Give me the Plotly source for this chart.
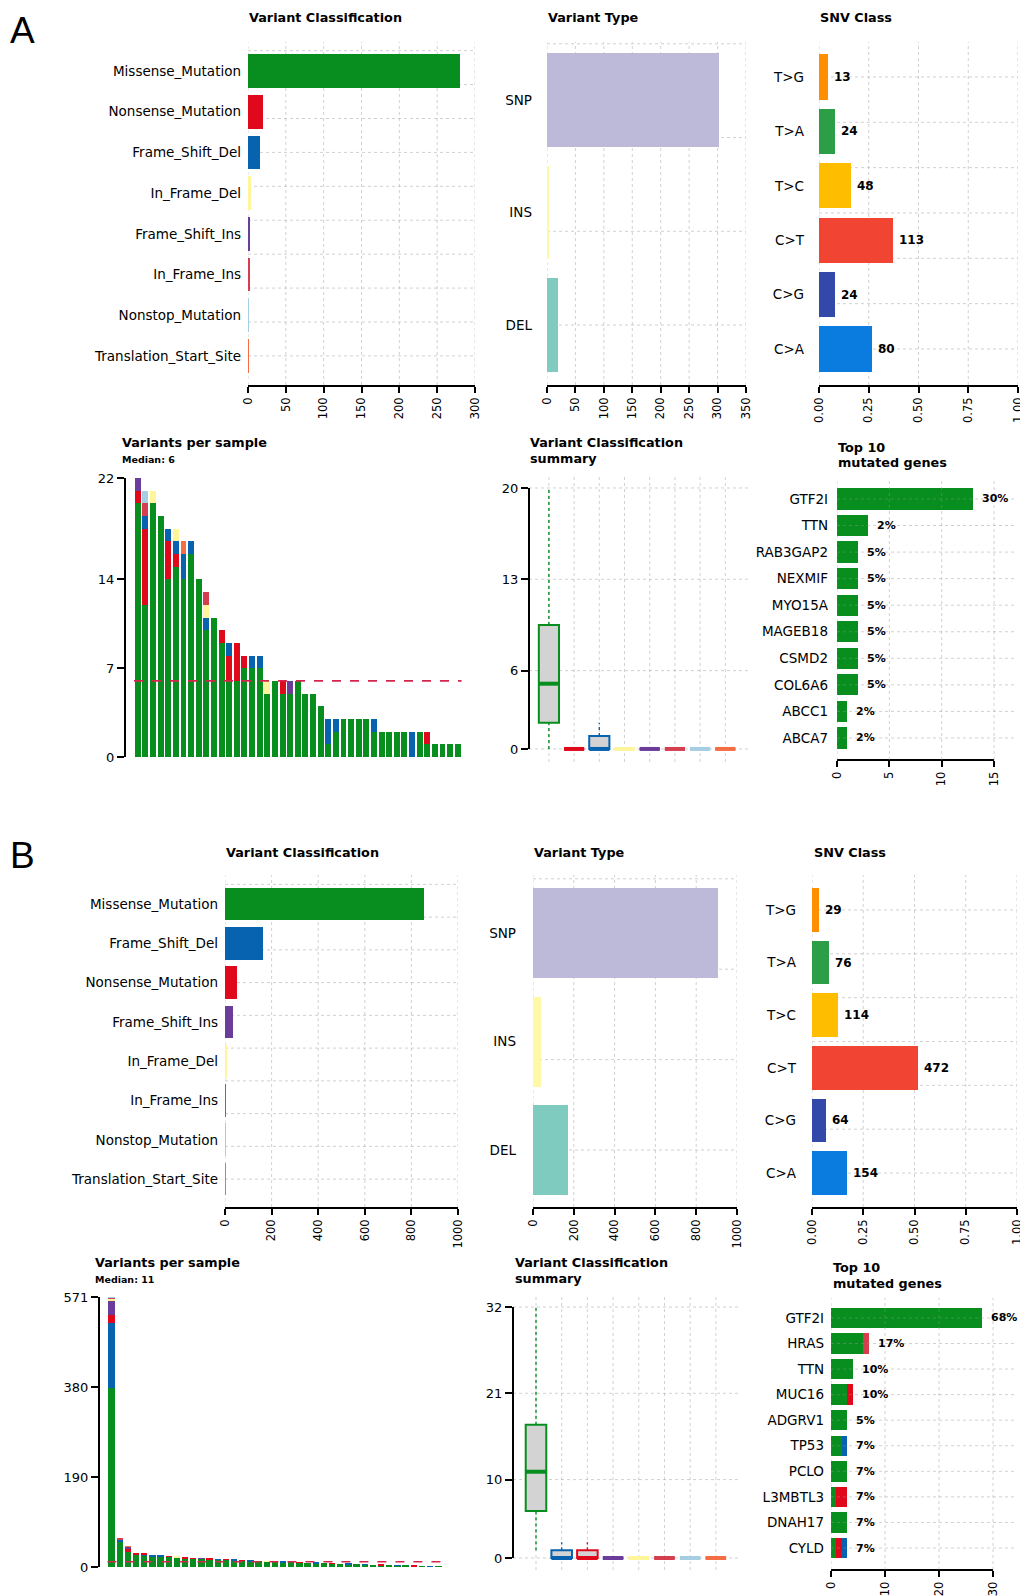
import numpy as np
import plotly.graph_objects as go

W, H = 1028, 1596          # size of the reference picture
OFF = 8                    # page body margin of the browser
WF, HF = W - OFF, H - OFF  # figure size so that it ends exactly at the window edge
FONT = "DejaVu Sans"
GRID = "rgba(150,150,150,0.55)"
BOXFILL = "#d3d3d3"
MEDIAN_COLOR = "#d6244f"

# ======================= DATA : panel A =======================
vc_names_A = ["Missense_Mutation", "Nonsense_Mutation", "Frame_Shift_Del", "In_Frame_Del",
              "Frame_Shift_Ins", "In_Frame_Ins", "Nonstop_Mutation", "Translation_Start_Site"]
vc_counts_A = [280, 20, 16, 4, 2, 2, 1, 1]
vc_ticks_A = [0, 50, 100, 150, 200, 250, 300]

vt_names = ["SNP", "INS", "DEL"]
vt_counts_A = [302, 4, 20]
vt_ticks_A = [0, 50, 100, 150, 200, 250, 300, 350]

snv_names = ["T>G", "T>A", "T>C", "C>T", "C>G", "C>A"]
snv_counts_A = [13, 24, 48, 113, 24, 80]
snv_ticks = [0, 0.25, 0.5, 0.75, 1.0]
snv_ticktext = ["0.00", "0.25", "0.50", "0.75", "1.00"]

# variants per sample, panel A (43 samples), one list per variant class
A_missense = [20, 12, 20, 19, 14, 15, 14, 16, 14, 10, 11, 9, 6, 6, 7, 7, 7, 5, 6, 5, 5, 6, 5, 5, 4, 1, 2,
              3, 3, 3, 3, 2, 2, 2, 2, 2, 0, 2, 1, 1, 1, 1, 1]
A_nonsense = [1, 6, 0, 0, 3, 1, 0, 0, 0, 0, 0, 1, 2, 3, 1, 0, 0, 0, 0, 1, 0, 0, 0, 0, 0, 0, 0,
              0, 0, 0, 0, 0, 0, 0, 0, 0, 0, 0, 1, 0, 0, 0, 0]
A_fs_del = [0, 1, 0, 0, 1, 1, 2, 1, 0, 1, 0, 0, 1, 0, 0, 1, 1, 0, 0, 0, 0, 0, 0, 0, 0, 2, 1,
            0, 0, 0, 0, 1, 0, 0, 0, 0, 2, 0, 0, 0, 0, 0, 0]
A_if_del = [0, 0, 1, 0, 0, 1, 0, 0, 0, 1, 0, 0, 0, 0, 0, 0, 0, 1, 0, 0, 0, 0, 0, 0, 0, 0, 0,
            0, 0, 0, 0, 0, 0, 0, 0, 0, 0, 0, 0, 0, 0, 0, 0]
A_fs_ins = [1, 0, 0, 0, 0, 0, 0, 0, 0, 0, 0, 0, 0, 0, 0, 0, 0, 0, 0, 0, 1, 0, 0, 0, 0, 0, 0,
            0, 0, 0, 0, 0, 0, 0, 0, 0, 0, 0, 0, 0, 0, 0, 0]
A_if_ins = [0, 1, 0, 0, 0, 0, 0, 0, 0, 1, 0, 0, 0, 0, 0, 0, 0, 0, 0, 0, 0, 0, 0, 0, 0, 0, 0,
            0, 0, 0, 0, 0, 0, 0, 0, 0, 0, 0, 0, 0, 0, 0, 0]
A_nonstop = [0, 1, 0, 0, 0, 0, 0, 0, 0, 0, 0, 0, 0, 0, 0, 0, 0, 0, 0, 0, 0, 0, 0, 0, 0, 0, 0,
             0, 0, 0, 0, 0, 0, 0, 0, 0, 0, 0, 0, 0, 0, 0, 0]
A_tss = [0, 0, 0, 0, 0, 0, 1, 0, 0, 0, 0, 0, 0, 0, 0, 0, 0, 0, 0, 0, 0, 0, 0, 0, 0, 0, 0,
         0, 0, 0, 0, 0, 0, 0, 0, 0, 0, 0, 0, 0, 0, 0, 0]
vps_ticks_A = [0, 7, 14, 22]
box_ticks_A = [0, 6, 13, 20]

genes_A = ["GTF2I", "TTN", "RAB3GAP2", "NEXMIF", "MYO15A", "MAGEB18", "CSMD2", "COL6A6", "ABCC1", "ABCA7"]
genes_A_missense = [13, 3, 2, 2, 2, 2, 2, 2, 1, 1]
genes_A_pct = ["30%", "2%", "5%", "5%", "5%", "5%", "5%", "5%", "2%", "2%"]
top_ticks_A = [0, 5, 10, 15]

# ======================= DATA : panel B =======================
vc_names_B = ["Missense_Mutation", "Frame_Shift_Del", "Nonsense_Mutation", "Frame_Shift_Ins",
              "In_Frame_Del", "In_Frame_Ins", "Nonstop_Mutation", "Translation_Start_Site"]
vc_counts_B = [856, 163, 51, 34, 8, 3, 1, 1]
vc_ticks_B = [0, 200, 400, 600, 800, 1000]
vt_counts_B = [909, 37, 171]
vt_ticks_B = [0, 200, 400, 600, 800, 1000]
snv_counts_B = [29, 76, 114, 472, 64, 154]

# variants per sample, panel B (41 samples)
B_missense = [379, 53, 32, 26, 24, 23, 22, 22, 20, 19, 17, 17, 16, 15, 15, 14, 13, 12, 12, 11, 11,
              10, 10, 9, 9, 8, 8, 7, 7, 6, 6, 5, 5, 4, 4, 3, 3, 2, 2, 1, 1]
B_fs_del = [137, 5, 0, 0, 2, 3, 2, 0, 0, 0, 1, 1, 0, 1, 0, 1, 0, 1, 0, 0, 0,
            1, 0, 0, 0, 1, 0, 0, 0, 1, 0, 1, 0, 0, 0, 1, 0, 0, 0, 1, 0]
B_nonsense = [17, 1, 8, 3, 2, 0, 0, 1, 1, 2, 1, 0, 1, 0, 1, 0, 1, 0, 0, 0, 0,
              0, 0, 1, 0, 0, 0, 1, 0, 0, 0, 0, 0, 1, 0, 0, 0, 1, 0, 0, 0]
B_fs_ins = [29, 0, 3, 0, 0, 0, 0, 0, 0, 0, 0, 1, 0, 0, 0, 0, 0, 0, 0, 0, 0,
            0, 0, 0, 0, 0, 0, 0, 0, 0, 0, 0, 0, 0, 0, 0, 0, 0, 0, 0, 0]
B_if_del = [6, 0, 0, 0, 0, 0, 0, 0, 1, 0, 0, 0, 0, 0, 0, 0, 0, 0, 0, 1, 0,
            0, 0, 0, 0, 0, 0, 0, 0, 0, 0, 0, 0, 0, 0, 0, 0, 0, 0, 0, 0]
B_if_ins = [2, 1, 0, 0, 0, 0, 0, 0, 0, 0, 0, 0, 0, 0, 0, 0, 0, 0, 0, 0, 0,
            0, 0, 0, 0, 0, 0, 0, 0, 0, 0, 0, 0, 0, 0, 0, 0, 0, 0, 0, 0]
B_nonstop = [1, 0, 0, 0, 0, 0, 0, 0, 0, 0, 0, 0, 0, 0, 0, 0, 0, 0, 0, 0, 0,
             0, 0, 0, 0, 0, 0, 0, 0, 0, 0, 0, 0, 0, 0, 0, 0, 0, 0, 0, 0]
B_tss = [0, 0, 1, 0, 0, 0, 0, 0, 0, 0, 0, 0, 0, 0, 0, 0, 0, 0, 0, 0, 0,
         0, 0, 0, 0, 0, 0, 0, 0, 0, 0, 0, 0, 0, 0, 0, 0, 0, 0, 0, 0]
vps_ticks_B = [0, 190, 380, 571]
box_ticks_B = [0, 10, 21, 32]

genes_B = ["GTF2I", "HRAS", "TTN", "MUC16", "ADGRV1", "TP53", "PCLO", "L3MBTL3", "DNAH17", "CYLD"]
genes_B_missense = [28, 6, 4, 3, 3, 2, 3, 1, 3, 1]
genes_B_if_ins = [0, 1, 0, 0, 0, 0, 0, 0, 0, 0]
genes_B_nonsense = [0, 0, 0, 1, 0, 0, 0, 2, 0, 1]
genes_B_fs_del = [0, 0, 0, 0, 0, 1, 0, 0, 0, 1]
genes_B_pct = ["68%", "17%", "10%", "10%", "5%", "7%", "7%", "7%", "7%", "7%"]
top_ticks_B = [0, 10, 20, 30]

# ======================= COLOURS =======================
VC_COL = {
    "Missense_Mutation": "#078e1f",
    "Nonsense_Mutation": "#e0081b",
    "Frame_Shift_Del": "#0762b0",
    "In_Frame_Del": "#fff59b",
    "Frame_Shift_Ins": "#6b3d9a",
    "In_Frame_Ins": "#d53e4f",
    "Nonstop_Mutation": "#a6cee3",
    "Translation_Start_Site": "#f46d43",
}
VT_COL = ["#bdb9d9", "#fff8a6", "#80cbc0"]
SNV_COL = ["#ff8f00", "#2c9e48", "#ffbd00", "#f24433", "#3349aa", "#0a7ce0"]

samples_A = {"Missense_Mutation": A_missense, "Nonsense_Mutation": A_nonsense,
             "Frame_Shift_Del": A_fs_del, "In_Frame_Del": A_if_del, "Frame_Shift_Ins": A_fs_ins,
             "In_Frame_Ins": A_if_ins, "Nonstop_Mutation": A_nonstop, "Translation_Start_Site": A_tss}
samples_B = {"Missense_Mutation": B_missense, "Frame_Shift_Del": B_fs_del,
             "Nonsense_Mutation": B_nonsense, "Frame_Shift_Ins": B_fs_ins, "In_Frame_Del": B_if_del,
             "In_Frame_Ins": B_if_ins, "Nonstop_Mutation": B_nonstop, "Translation_Start_Site": B_tss}

# ======================= BUILD =======================
fig = go.Figure()
axes = {}
shapes = []
annotations = []
counter = [0]


def fx(px):
    return (px - OFF) / WF


def fy(py):
    return 1 - (py - OFF) / HF


def new_axes(xpx, ypx, xrange, yrange):
    counter[0] += 1
    n = counter[0]
    s = "" if n == 1 else str(n)
    xa = dict(domain=[fx(xpx[0]), fx(xpx[1])], range=xrange, anchor="y" + s,
              showgrid=False, zeroline=False, fixedrange=True)
    ya = dict(domain=[fy(ypx[1]), fy(ypx[0])], range=yrange, anchor="x" + s,
              showgrid=False, zeroline=False, fixedrange=True)
    axes["xaxis" + s] = xa
    axes["yaxis" + s] = ya
    return "x" + s, "y" + s, xa, ya


def text(px, py, s, size, bold=True, family=FONT, yanchor="middle"):
    annotations.append(dict(x=fx(px), y=fy(py), xref="paper", yref="paper",
                            text=f"<b>{s}</b>" if bold else s, showarrow=False,
                            xanchor="left", yanchor=yanchor, borderpad=0,
                            font=dict(size=size, family=family, color="black")))


def vline(xr, yr, x, layer="below"):
    shapes.append(dict(type="line", xref=xr, yref=yr + " domain", x0=x, x1=x, y0=0, y1=1,
                       line=dict(color=GRID, width=0.8, dash="dot"), layer=layer))


def hline(xr, yr, y, layer="below"):
    shapes.append(dict(type="line", xref=xr + " domain", yref=yr, x0=0, x1=1, y0=y, y1=y,
                       line=dict(color=GRID, width=0.8, dash="dot"), layer=layer))


def xaxis_style(xa, ticks, ticktext=None, line=True):
    xa.update(tickmode="array", tickvals=ticks, ticktext=ticktext if ticktext else [str(t) for t in ticks],
              tickangle=-90, ticks="outside", ticklen=6, tickwidth=1.5, tickcolor="black",
              showline=line, linewidth=1.5, linecolor="black", tickfont=dict(size=11.5))


def hbar_panel(names, values, colors, xpx, ypx, krange, xmax, ticks, ticktext, gap,
               value_labels=None):
    n = len(names)
    xr, yr, xa, ya = new_axes(xpx, ypx, [0, xmax], [krange[1], krange[0]])
    fig.add_trace(go.Bar(x=values, y=list(range(n)), orientation="h", width=0.83,
                         marker=dict(color=colors, line=dict(width=0)),
                         xaxis=xr, yaxis=yr, hoverinfo="skip"))
    xaxis_style(xa, ticks, ticktext)
    ya.update(tickmode="array", tickvals=list(range(n)), ticktext=names, ticks="",
              showline=False, tickfont=dict(size=13.5), ticklabelstandoff=gap)
    for t in ticks:
        vline(xr, yr, t)
    k = n - 1
    while k > krange[0]:
        hline(xr, yr, k)
        k -= 1 / 1.2
    if value_labels is not None:
        for i, (v, lab) in enumerate(zip(values, value_labels)):
            annotations.append(dict(x=v, y=i, xref=xr, yref=yr, text=f"<b>{lab}</b>",
                                    showarrow=False, xanchor="left", yanchor="middle", xshift=4,
                                    font=dict(size=12, family=FONT, color="black")))


def vps_panel(samples, xpx, ypx, xrange, ymax, yticks):
    names = list(samples.keys())
    n = len(samples[names[0]])
    xr, yr, xa, ya = new_axes(xpx, ypx, xrange, [0, ymax])
    for nm in names:
        fig.add_trace(go.Bar(x=list(range(n)), y=samples[nm], width=0.78,
                             marker=dict(color=VC_COL[nm], line=dict(width=0)),
                             xaxis=xr, yaxis=yr, hoverinfo="skip"))
    xa.update(visible=False)
    ya.update(tickmode="array", tickvals=yticks, ticks="outside", ticklen=7, tickwidth=2,
              tickcolor="black", showline=True, linewidth=2, linecolor="black",
              tickfont=dict(size=13))
    totals = np.sum([samples[nm] for nm in names], axis=0)
    med = float(np.median(totals))
    shapes.append(dict(type="line", xref=xr, yref=yr, x0=-0.5, x1=n - 0.5, y0=med, y1=med,
                       line=dict(color=MEDIAN_COLOR, width=1.6, dash="dash"), layer="above"))
    return int(med)


def box_stats(v):
    v = np.asarray(v, float)
    q1, med, q3 = np.percentile(v, [25, 50, 75])
    iqr = q3 - q1
    lo = v[v >= q1 - 1.5 * iqr].min()
    hi = v[v <= q3 + 1.5 * iqr].max()
    return q1, med, q3, lo, hi


def box_panel(samples, xpx, ypx, xrange, yrange, yticks):
    names = list(samples.keys())
    xr, yr, xa, ya = new_axes(xpx, ypx, xrange, yrange)
    for k in range(len(names)):
        vline(xr, yr, k)
    for t in yticks:
        hline(xr, yr, t)
    for k, nm in enumerate(names):
        c = VC_COL[nm]
        q1, med, q3, lo, hi = box_stats(samples[nm])
        fig.add_trace(go.Scatter(x=[k, k, None, k, k], y=[lo, q1, None, q3, hi], mode="lines",
                                 line=dict(color=c, width=1.4, dash="dot"),
                                 xaxis=xr, yaxis=yr, hoverinfo="skip"))
        fig.add_trace(go.Box(x=[k], q1=[q1], median=[med], q3=[q3], lowerfence=[q1],
                             upperfence=[q3], width=0.8, fillcolor=BOXFILL,
                             line=dict(color=c, width=2), whiskerwidth=0, boxpoints=False,
                             xaxis=xr, yaxis=yr, hoverinfo="skip"))
        fig.add_trace(go.Scatter(x=[k - 0.4, k + 0.4], y=[med, med], mode="lines",
                                 line=dict(color=c, width=4), xaxis=xr, yaxis=yr,
                                 hoverinfo="skip"))
    xa.update(visible=False)
    ya.update(tickmode="array", tickvals=yticks, ticks="outside", ticklen=7, tickwidth=2,
              tickcolor="black", showline=False, tickfont=dict(size=13))
    shapes.append(dict(type="line", xref=xr + " domain", yref=yr, x0=0, x1=0,
                       y0=yticks[0], y1=yticks[-1], line=dict(color="black", width=2)))


def top10_panel(genes, stacks, pct, xpx, ypx, xmax, krange, ticks, gap):
    n = len(genes)
    xr, yr, xa, ya = new_axes(xpx, ypx, [0, xmax], [krange[1], krange[0]])
    for vals, col in stacks:
        fig.add_trace(go.Bar(x=vals, y=list(range(n)), orientation="h", width=0.8,
                             marker=dict(color=col, line=dict(width=0)),
                             xaxis=xr, yaxis=yr, hoverinfo="skip"))
    xaxis_style(xa, ticks, line=False)
    shapes.append(dict(type="line", xref=xr, yref=yr + " domain", x0=ticks[0], x1=ticks[-1],
                       y0=0, y1=0, line=dict(color="black", width=2)))
    ya.update(tickmode="array", tickvals=list(range(n)), ticktext=genes, ticks="",
              showline=False, tickfont=dict(size=13.5), ticklabelstandoff=gap)
    for t in ticks:
        vline(xr, yr, t, layer="above")
    for k in range(n):
        hline(xr, yr, k, layer="above")
    totals = np.sum([s[0] for s in stacks], axis=0)
    for k in range(n):
        annotations.append(dict(x=float(totals[k]), y=k, xref=xr, yref=yr,
                                text=f"<b>{pct[k]}</b>", showarrow=False, xanchor="left",
                                yanchor="middle", xshift=7,
                                font=dict(size=11, family=FONT, color="black")))


# ---------------- Panel A ----------------
text(9, 9, "A", 37, bold=False, family="Liberation Sans", yanchor="top")
hbar_panel(vc_names_A, vc_counts_A, [VC_COL[n] for n in vc_names_A],
           (248, 475), (42, 385), (-0.713, 7.715), 300, vc_ticks_A, None, 6)
text(248, 18, "Variant Classification", 12.8)
hbar_panel(vt_names, vt_counts_A, VT_COL, (547, 746), (42, 385), (-0.516, 2.533), 350,
           vt_ticks_A, None, 14)
text(547, 18, "Variant Type", 12.8)
snv_frac_A = [c / sum(snv_counts_A) for c in snv_counts_A]
hbar_panel(snv_names, snv_frac_A, SNV_COL, (819, 1018), (42, 385), (-0.643, 5.662), 1.0,
           snv_ticks, snv_ticktext, 14, value_labels=snv_counts_A)
text(819, 18, "SNV Class", 12.8)

medA = vps_panel(samples_A, (126, 462), (478, 757), [-1.55, 42.56], 22, vps_ticks_A)
text(121, 442, "Variants per sample", 12.8)
text(121, 459, f"Median: {medA}", 9.5)
box_panel(samples_A, (529, 748), (477, 762), [-0.79, 7.90], [-1.0, 20.84], box_ticks_A)
text(529, 442, "Variant Classification", 12.8)
text(529, 458, "summary", 12.8)
top10_panel(genes_A, [(genes_A_missense, VC_COL["Missense_Mutation"])], genes_A_pct,
            (837, 1017), (478, 760), 17.19, (-0.79, 9.83), top_ticks_A, 8)
text(837, 447, "Top 10", 12.8)
text(837, 463, "mutated genes", 12.8)

# ---------------- Panel B ----------------
text(9, 855, "B", 37, bold=False, family="Liberation Sans")
hbar_panel(vc_names_B, vc_counts_B, [VC_COL[n] for n in vc_names_B],
           (225, 458), (875, 1207), (-0.738, 7.71), 1000, vc_ticks_B, None, 6)
text(225, 853, "Variant Classification", 12.8)
hbar_panel(vt_names, vt_counts_B, VT_COL, (533, 737), (875, 1207), (-0.535, 2.525), 1000,
           vt_ticks_B, None, 16)
text(533, 853, "Variant Type", 12.8)
snv_frac_B = [c / sum(snv_counts_B) for c in snv_counts_B]
hbar_panel(snv_names, snv_frac_B, SNV_COL, (812, 1017), (875, 1207), (-0.665, 5.646), 1.0,
           snv_ticks, snv_ticktext, 15, value_labels=snv_counts_B)
text(813, 853, "SNV Class", 12.8)

medB = vps_panel(samples_B, (100, 446), (1297, 1567), [-1.41, 40.94], 571, vps_ticks_B)
text(94, 1262, "Variants per sample", 12.8)
text(94, 1279, f"Median: {medB}", 9.5)
box_panel(samples_B, (513, 740), (1297, 1570), [-0.895, 7.94], [-1.53, 33.28], box_ticks_B)
text(514, 1262, "Variant Classification", 12.8)
text(514, 1278, "summary", 12.8)
top10_panel(genes_B, [(genes_B_missense, VC_COL["Missense_Mutation"]),
                      (genes_B_if_ins, VC_COL["In_Frame_Ins"]),
                      (genes_B_nonsense, VC_COL["Nonsense_Mutation"]),
                      (genes_B_fs_del, VC_COL["Frame_Shift_Del"])],
            genes_B_pct, (831, 1017), (1298, 1570), 34.44, (-0.78, 9.86), top_ticks_B, 6)
text(832, 1267, "Top 10", 12.8)
text(832, 1283, "mutated genes", 12.8)

fig.update_layout(width=WF, height=HF,
                  margin=dict(l=0, r=0, t=0, b=0, pad=0, autoexpand=False),
                  paper_bgcolor="white", plot_bgcolor="white", showlegend=False,
                  barmode="stack", boxmode="overlay",
                  font=dict(family=FONT, color="black"),
                  shapes=shapes, annotations=annotations, **axes)
fig.write_html("out.html")
